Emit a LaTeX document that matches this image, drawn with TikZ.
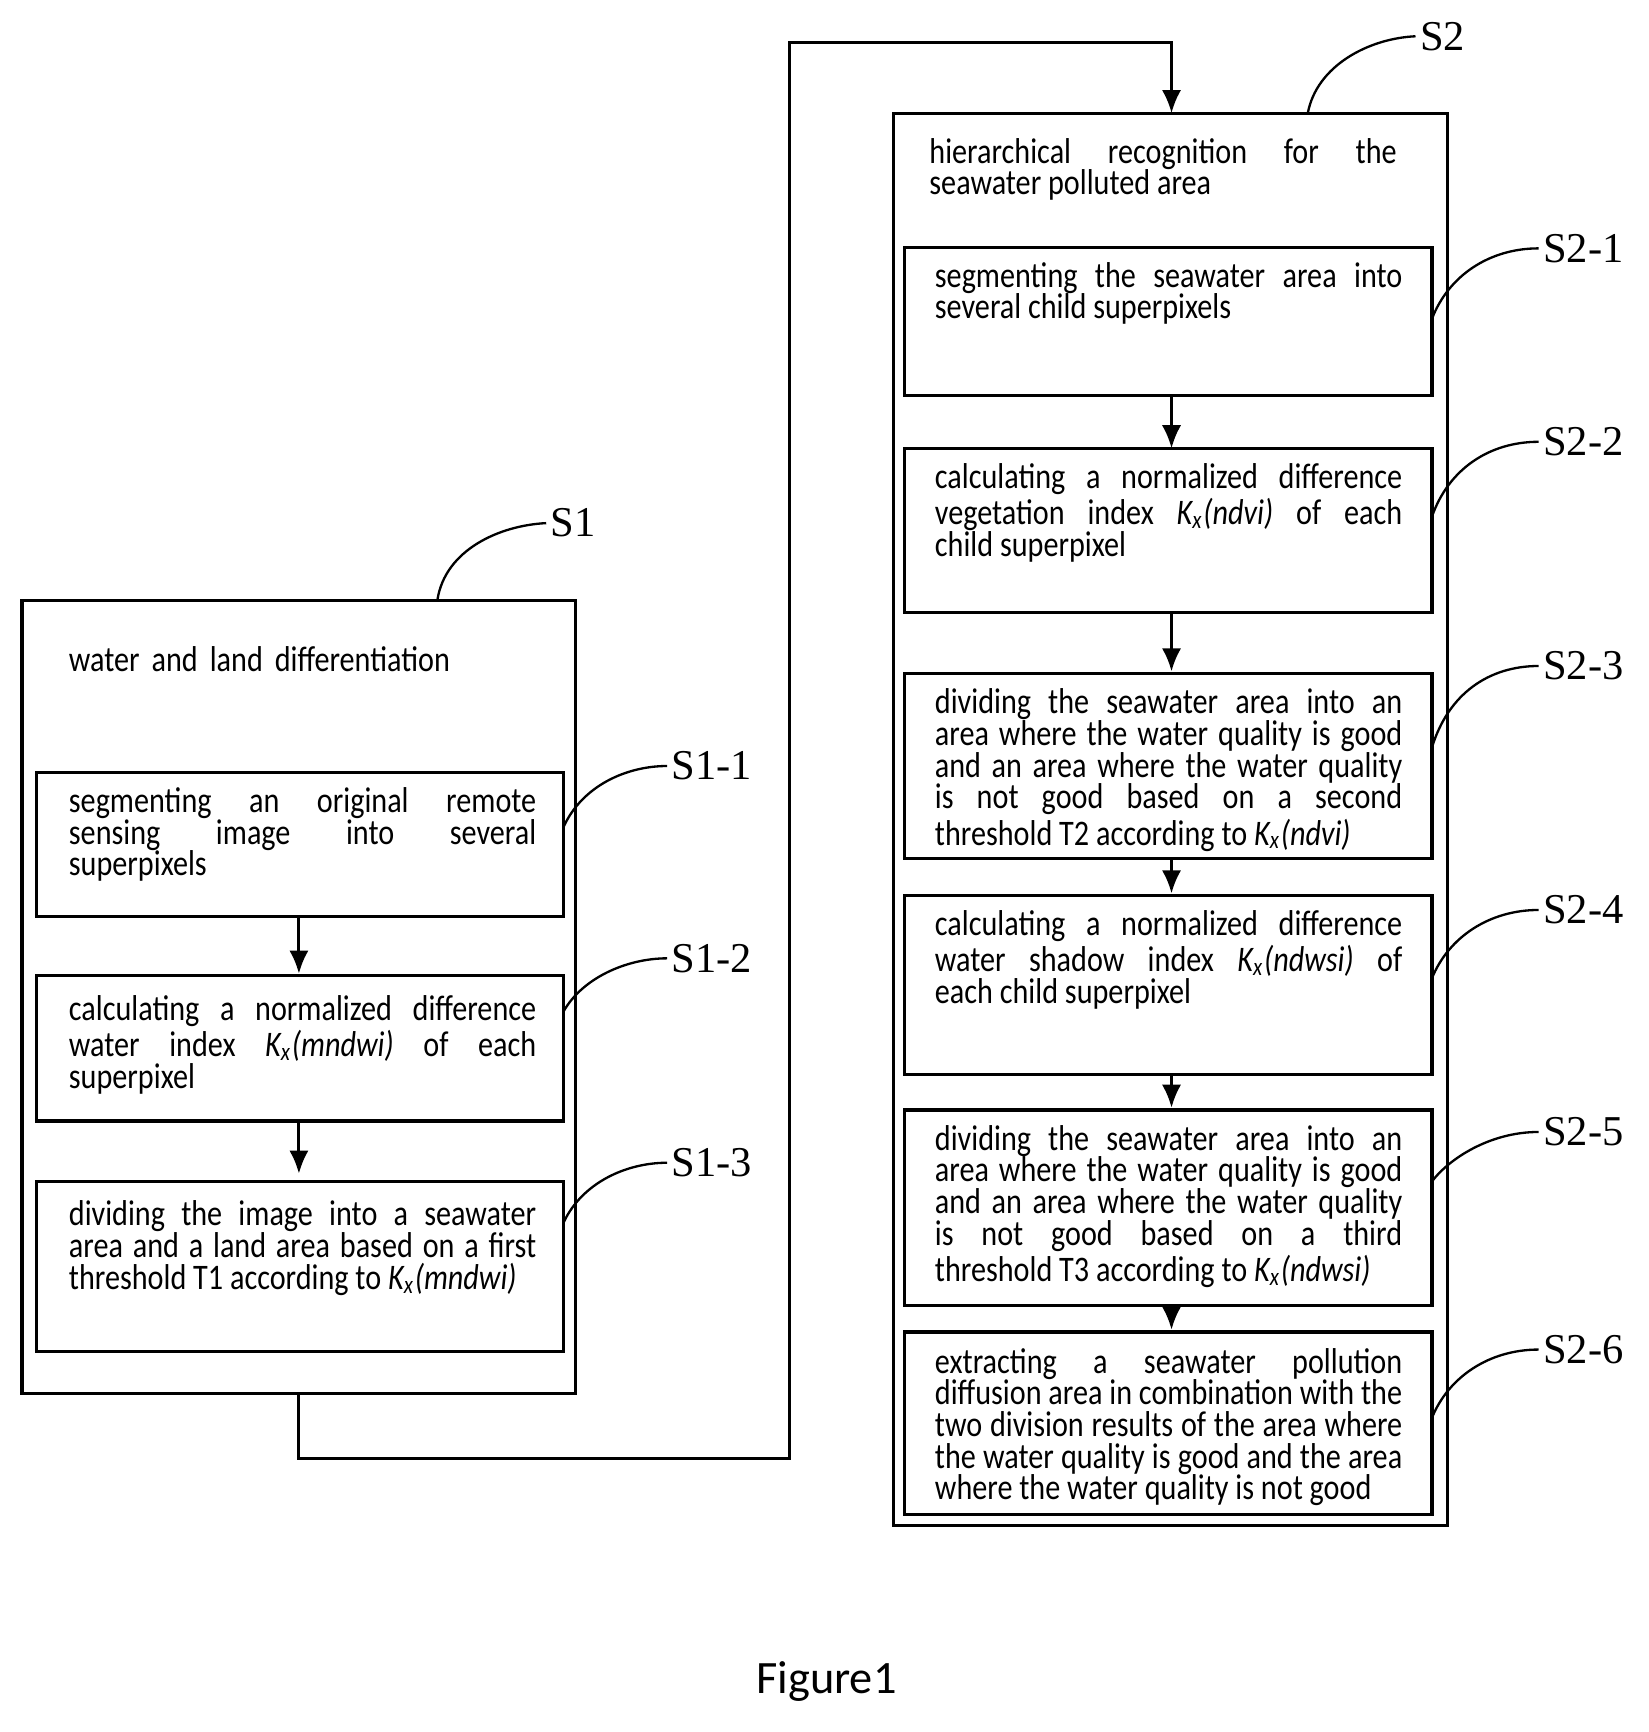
\documentclass[tikz,border=0pt]{standalone}
\usepackage{fontspec}
\setmainfont{Carlito}
\newfontfamily\cond[FakeStretch=0.84]{Carlito}
\newfontfamily\lblfont{Liberation Serif}
\usetikzlibrary{arrows.meta}
\newcommand\lb{\linebreak}
\newcommand\txtfont{\cond\fontsize{9.3}{8.2}\selectfont\hyphenpenalty10000\exhyphenpenalty10000\relax}
\begin{document}
\begin{tikzpicture}[x=0.01cm,y=-0.01cm,
  box/.style={draw,line width=0.8pt},
  txt/.style={anchor=north west,inner sep=0pt,text width=4.25cm,align=justify,font=\txtfont},
  arr/.style={-{Latex[length=6pt,width=5pt]},line width=0.8pt},
  lab/.style={font=\lblfont\fontsize{11}{12}\selectfont,inner sep=1pt},
  lead/.style={line width=0.6pt}]
\useasboundingbox (0,0) rectangle (1500,1576);
% S1
\draw[box] (20,546) rectangle (524,1268);
\node[txt,align=left] (t1) at (62,588) {water and land differentiation};
\draw[box] (33,703) rectangle (513,834);
\node[txt] (b11) at (62,716) {segmenting an original remote\lb sensing image into several\lb superpixels};
\draw[box] (33,888) rectangle (513,1020);
\node[txt] (b12) at (62,905) {calculating a normalized difference\lb water index \textit{K\textsubscript{x}(mndwi)} of each\lb superpixel};
\draw[box] (33,1075) rectangle (513,1230);
\node[txt] (b13) at (62,1092) {dividing the image into a seawater\lb area and a land area based on a first\lb threshold T1 according to \textit{K\textsubscript{x}(mndwi)}};
\coordinate (a1) at (272,834); \coordinate (a2) at (272,886);
\coordinate (a3) at (272,1020); \coordinate (a4) at (272,1068);
\draw[arr] (a1) -- (a2); \draw[arr] (a3) -- (a4);
% S2
\draw[box] (813,103) rectangle (1317,1388);
\node[txt] (t2) at (845,125) {hierarchical recognition for the\lb seawater polluted area};
\draw[box] (823,225) rectangle (1303,360);
\node[txt] (b21) at (850,238) {segmenting the seawater area into\lb several child superpixels};
\draw[box] (823,408) rectangle (1303,557);
\node[txt] (b22) at (850,421) {calculating a normalized difference\lb vegetation index \textit{K\textsubscript{x}(ndvi)} of each\lb child superpixel};
\draw[box] (823,613) rectangle (1303,781);
\node[txt] (b23) at (850,626) {dividing the seawater area into an\lb area where the water quality is good\lb and an area where the water quality\lb is not good based on a second\lb threshold T2 according to \textit{K\textsubscript{x}(ndvi)}};
\draw[box] (823,815) rectangle (1303,978);
\node[txt] (b24) at (850,828) {calculating a normalized difference\lb water shadow index \textit{K\textsubscript{x}(ndwsi)} of\lb each child superpixel};
\draw[box] (823,1010) rectangle (1303,1188);
\node[txt] (b25) at (850,1023) {dividing the seawater area into an\lb area where the water quality is good\lb and an area where the water quality\lb is not good based on a third\lb threshold T3 according to \textit{K\textsubscript{x}(ndwsi)}};
\draw[box] (823,1212) rectangle (1303,1378);
\node[txt] (b26) at (850,1226) {extracting a seawater pollution\lb diffusion area in combination with the\lb two division results of the area where\lb the water quality is good and the area\lb where the water quality is not good};
\foreach \ya/\yb [count=\i] in {360/408,557/611,781/813,978/1008,1188/1210}
  {\coordinate (p\i) at (1066,\ya); \coordinate (q\i) at (1066,\yb); \draw[arr] (p\i) -- (q\i);}
% main connector
\coordinate (c0) at (272,1268); \coordinate (c1) at (272,1327); \coordinate (c2) at (718,1327);
\coordinate (c3) at (718,39); \coordinate (c4) at (1066,39); \coordinate (c5) at (1066,103);
\draw[arr] (c0) -- (c1) -- (c2) -- (c3) -- (c4) -- (c5);
% labels
\node[lab,anchor=west] (L1) at (497,476) {S1};
\draw[lead] (398,546) .. controls (405,500) and (455,478) .. (L1.west);
\node[lab,anchor=west] (L11) at (607,697) {S1-1};
\draw[lead] (513,752) .. controls (530,715) and (570,697) .. (L11.west);
\node[lab,anchor=west] (L12) at (607,872) {S1-2};
\draw[lead] (513,920) .. controls (530,890) and (570,872) .. (L12.west);
\node[lab,anchor=west] (L13) at (607,1058) {S1-3};
\draw[lead] (513,1112) .. controls (530,1076) and (570,1058) .. (L13.west);
\node[lab,anchor=west] (L2) at (1288,33) {S2};
\draw[lead] (1190,103) .. controls (1198,60) and (1245,35) .. (L2.west);
\foreach \n/\ya/\yl in {1/290/226,2/470/402,3/680/606,4/890/828,5/1075/1030,6/1290/1228}{
  \node[lab,anchor=west] (L2\n) at (1400,\yl) {S2-\n};
  \draw[lead] (1303,\ya) .. controls (1318,\yl+25) and (1355,\yl) .. (L2\n.west);}
\node[font=\fontsize{12}{14}\selectfont] (fig) at (752,1530) {Figure1};
\end{tikzpicture}
\end{document}
